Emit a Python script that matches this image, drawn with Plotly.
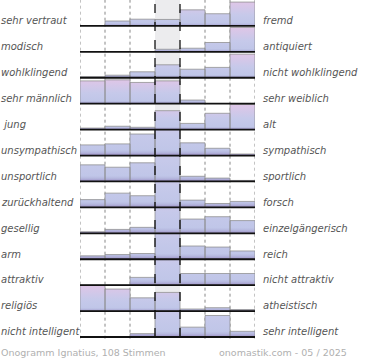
import plotly.graph_objects as go
from plotly.subplots import make_subplots

left_labels = ["sehr vertraut", "modisch", "wohlklingend", "sehr männlich", "\u00a0jung",
               "unsympathisch", "unsportlich", "zurückhaltend", "gesellig", "arm",
               "attraktiv", "religiös", "nicht intelligent"]
right_labels = ["fremd", "antiquiert", "nicht wohlklingend", "sehr weiblich", "alt",
                "sympathisch", "sportlich", "forsch", "einzelgängerisch", "reich",
                "nicht attraktiv", "atheistisch", "sehr intelligent"]

# relative bar heights per row (7 bins, row max ~ 1)
row_sehr_vertraut = [0.00, 0.19, 0.26, 0.25, 0.62, 0.47, 0.92]
row_modisch       = [0.00, 0.00, 0.00, 0.10, 0.14, 0.36, 0.94]
row_wohlklingend  = [0.04, 0.10, 0.23, 0.50, 0.33, 0.40, 0.91]
row_maennlich     = [0.88, 0.92, 0.82, 0.88, 0.14, 0.00, 0.00]
row_jung          = [0.06, 0.13, 0.09, 0.73, 0.24, 0.63, 0.97]
row_unsympathisch = [0.41, 0.45, 0.83, 1.00, 0.49, 0.28, 0.06]
row_unsportlich   = [0.64, 0.55, 0.72, 1.00, 0.20, 0.13, 0.04]
row_zurueck       = [0.30, 0.55, 0.45, 1.00, 0.28, 0.15, 0.23]
row_gesellig      = [0.06, 0.15, 0.23, 1.00, 0.55, 0.64, 0.49]
row_arm           = [0.13, 0.18, 0.22, 1.00, 0.51, 0.47, 0.32]
row_attraktiv     = [0.00, 0.00, 0.30, 1.00, 0.45, 0.45, 0.45]
row_religioes     = [1.00, 0.85, 0.51, 0.72, 0.08, 0.13, 0.06]
row_intelligent   = [0.00, 0.00, 0.13, 1.00, 0.38, 0.83, 0.22]

rows = [row_sehr_vertraut, row_modisch, row_wohlklingend, row_maennlich, row_jung,
        row_unsympathisch, row_unsportlich, row_zurueck, row_gesellig, row_arm,
        row_attraktiv, row_religioes, row_intelligent]

footer_left = "Onogramm Ignatius, 108 Stimmen"
footer_right = "onomastik.com - 05 / 2025"

N = len(rows)
bins = list(range(7))
MID = 3

W, H = 370, 360
ML, MR, MT, MB = 80, 115, 0, 23
PW = W - ML - MR


def px_to_paper_x(px):
    return (px - ML) / PW


fig = make_subplots(rows=N, cols=1, shared_xaxes=True, vertical_spacing=0)

grad = [[0.0, "#9d90c6"], [0.07, "#b6b9df"], [0.12, "#c0c6e8"],
        [0.45, "#c6c9ea"], [1.0, "#dfc6e7"]]

for k, vals in enumerate(rows):
    xs, ys = [], []
    for b, v in zip(bins, vals):
        xs += [b - 0.5, b - 0.5, b + 0.5, b + 0.5, b - 0.5, None]
        ys += [0, v, v, 0, 0, None]
    mx = max(vals)
    neutral_peak = vals.index(mx) == MID
    stop = 1.8 if neutral_peak else mx
    fig.add_trace(go.Scatter(
        x=xs, y=ys, mode="lines", fill="toself",
        line=dict(color="rgba(140,140,140,0.75)", width=1),
        fillgradient=dict(type="vertical", colorscale=grad, start=0, stop=stop),
        hoverinfo="skip", showlegend=False), row=k + 1, col=1)

for k in range(N):
    fig.update_yaxes(range=[0, 1], row=k + 1, col=1)
fig.update_yaxes(showticklabels=False, showgrid=False, zeroline=False, fixedrange=True)
fig.update_xaxes(range=[-0.5, 6.5], showticklabels=False, showgrid=False,
                 zeroline=False, ticks="", fixedrange=True)

shapes = []
shapes.append(dict(type="rect", xref="x", yref="paper", x0=2.5, x1=3.5, y0=0, y1=1,
                   fillcolor="#ececee", line_width=0, layer="below"))
for e in [-0.5, 0.5, 1.5, 4.5, 5.5, 6.5]:
    shapes.append(dict(type="line", xref="x", yref="paper", x0=e, x1=e, y0=-0.005, y1=1,
                       line=dict(color="#888", width=1, dash="dot"), layer="below"))
for e in [2.5, 3.5]:
    shapes.append(dict(type="line", xref="x", yref="paper", x0=e, x1=e, y0=0, y1=1,
                       line=dict(color="#000", width=1.2, dash="dash"), layer="above"))
for k in range(N):
    yb = 1 - (k + 1) / N
    shapes.append(dict(type="line", xref="x", yref="paper", x0=-0.5, x1=6.5, y0=yb, y1=yb,
                       line=dict(color="#111", width=1.8), layer="above"))

annotations = []
lab_font = dict(family="DejaVu Sans", size=10, color="#555", style="italic")
for k in range(N):
    yref = "y" if k == 0 else f"y{k + 1}"
    annotations.append(dict(text=left_labels[k], xref="paper", yref=yref,
                            x=px_to_paper_x(-1), y=0.2,
                            xanchor="left", yanchor="middle", showarrow=False, font=lab_font))
    annotations.append(dict(text=right_labels[k], xref="paper", yref=yref,
                            x=px_to_paper_x(261), y=0.2,
                            xanchor="left", yanchor="middle", showarrow=False, font=lab_font))

foot_font = dict(family="DejaVu Sans", size=9.5, color="#b0b0b0")
annotations.append(dict(text=footer_left, xref="paper", yref="paper", x=px_to_paper_x(-1),
                        y=0, yshift=-15, xanchor="left", yanchor="middle",
                        showarrow=False, font=foot_font))
annotations.append(dict(text=footer_right, xref="paper", yref="paper", x=px_to_paper_x(349),
                        y=0, yshift=-15, xanchor="right", yanchor="middle",
                        showarrow=False, font=foot_font))

fig.update_layout(
    width=W, height=H,
    margin=dict(l=ML, r=MR, t=MT, b=MB),
    paper_bgcolor="white", plot_bgcolor="rgba(0,0,0,0)",
    shapes=shapes, annotations=annotations,
    showlegend=False,
)

fig.write_html("out.html", config={"displayModeBar": False},
               post_script="document.body.style.margin='0';")
